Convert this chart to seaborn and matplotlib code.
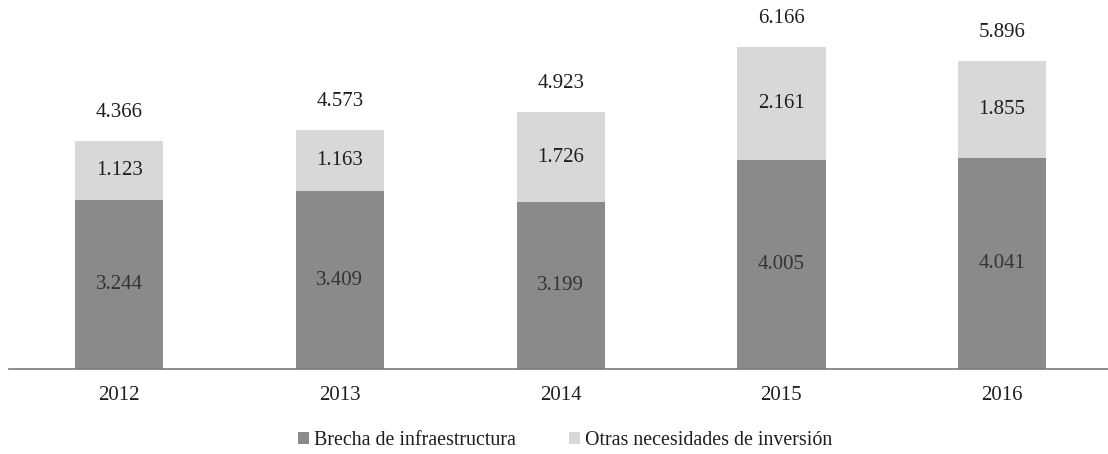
import matplotlib
matplotlib.use("Agg")
import matplotlib.pyplot as plt
from matplotlib.patches import Patch
import seaborn as sns
import pandas as pd

years = ["2012", "2013", "2014", "2015", "2016"]
brecha = [3.244, 3.409, 3.199, 4.005, 4.041]
otras = [1.123, 1.163, 1.726, 2.161, 1.855]
totales = [4.366, 4.573, 4.923, 6.166, 5.896]

dark = "#8a8a8a"
light = "#d8d8d8"
text_color = "#1e1e1e"

sns.set_theme(style="white")
plt.rcParams["font.family"] = ["Liberation Serif", "DejaVu Serif"]

df = pd.DataFrame({"year": years, "brecha": brecha, "otras": otras, "total": totales})

fig = plt.figure(figsize=(11.08, 4.54), dpi=100)
ax = fig.add_axes([0.008, 0.187, 0.996, 0.813])

# full stack height in the light tone, base component drawn over it
sns.barplot(data=df, x="year", y="total", color=light, width=0.4,
            saturation=1, ax=ax, edgecolor="none")
sns.barplot(data=df, x="year", y="brecha", color=dark, width=0.4,
            saturation=1, ax=ax, edgecolor="none")

for i, (b, o, t) in enumerate(zip(brecha, otras, totales)):
    ax.text(i, b / 2, f"{b:.3f}", ha="center", va="center",
            fontsize=15, color="#333333")
    ax.text(i, b + (t - b) / 2, f"{o:.3f}", ha="center", va="center",
            fontsize=15, color=text_color)
    ax.text(i, t + 0.55, f"{t:.3f}", ha="center", va="center",
            fontsize=15, color=text_color)

ax.set_xlim(-0.5, 4.5)
ax.set_ylim(0, 7.07)
ax.set_xlabel("")
ax.set_ylabel("")
ax.set_yticks([])
ax.tick_params(axis="x", length=0, pad=12, labelsize=15, labelcolor=text_color)
for side in ["top", "right", "left"]:
    ax.spines[side].set_visible(False)
ax.spines["bottom"].set_color("#7a7a7a")
ax.spines["bottom"].set_linewidth(1.2)
ax.patch.set_alpha(0)

handles = [Patch(facecolor=dark, edgecolor="none", label="Brecha de infraestructura"),
           Patch(facecolor=light, edgecolor="none", label="Otras necesidades de inversión")]
fig.legend(handles=handles, loc="center", bbox_to_anchor=(0.51, 0.029), ncol=2,
           frameon=False, fontsize=14.4, handlelength=0.55, handleheight=0.55,
           handletextpad=0.25, columnspacing=2.7, labelcolor=text_color)

fig.savefig("out.png", dpi=100, facecolor="white")
